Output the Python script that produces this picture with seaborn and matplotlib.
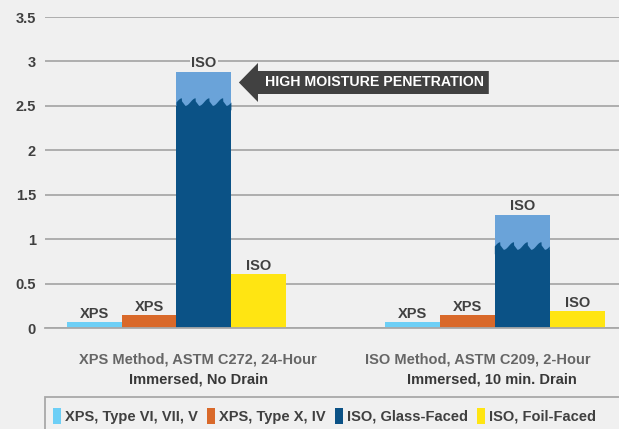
import numpy as np
import pandas as pd
import matplotlib.pyplot as plt
import seaborn as sns
from matplotlib.patches import Rectangle, Polygon, FancyArrow

tests = ["XPS Method, ASTM C272, 24-Hour\nImmersed, No Drain",
         "ISO Method, ASTM C209, 2-Hour\nImmersed, 10 min. Drain"]
products = ["XPS, Type VI, VII, V", "XPS, Type X, IV", "ISO, Glass-Faced", "ISO, Foil-Faced"]
bar_labels = ["XPS", "XPS", "ISO", "ISO"]
xps_6_7_5 = [0.07, 0.07]
xps_10_4 = [0.15, 0.15]
iso_glass = [2.88, 1.27]
iso_foil = [0.61, 0.19]
water_level = [2.50, 0.88]   # wavy boundary inside the glass-faced bars

colors = ["#6dcff6", "#d9692a", "#0b5286", "#ffe512"]
light_top = "#6aa3d9"
bg = "#f0f0f0"
txt = "#404040"
grid_c = "#a8a8a8"
fs = 10.5

rows = []
for i, t in enumerate(tests):
    for p, vals in zip(products, [xps_6_7_5, xps_10_4, iso_glass, iso_foil]):
        rows.append({"test": t, "product": p, "value": vals[i]})
df = pd.DataFrame(rows)

sns.set_theme(style="white")
plt.rcParams['font.family'] = ['Liberation Sans', 'DejaVu Sans']

fig = plt.figure(figsize=(6.19, 4.29), dpi=100, facecolor=bg)
ax = fig.add_axes([45 / 619, 1 - 328 / 429, 1 - 45 / 619, (328 - 17) / 429])
ax.set_facecolor(bg)

sns.barplot(data=df, x="test", y="value", hue="product", palette=colors,
            width=0.69, saturation=1, linewidth=0, ax=ax)
handles, labels = ax.get_legend_handles_labels()
ax.get_legend().remove()

ax.set_ylim(0, 3.5)
ax.set_xlim(-0.413, 1.39)
ax.set_yticks(np.arange(0, 3.51, 0.5))
ax.set_yticklabels(["0", "0.5", "1", "1.5", "2", "2.5", "3", "3.5"],
                   fontweight="bold", color=txt, fontsize=fs)
ax.yaxis.grid(True, color=grid_c, linewidth=1.3)
ax.set_axisbelow(True)
ax.tick_params(axis="y", length=0, pad=6.5)
ax.tick_params(axis="x", length=0)
ax.set_xticklabels([])
ax.set_xlabel("")
ax.set_ylabel("")
for s in ["left", "right", "top"]:
    ax.spines[s].set_visible(False)
ax.spines["bottom"].set_color(grid_c)
ax.spines["bottom"].set_linewidth(1.3)

# light top section + waves on the glass-faced bars
for bar, lvl in zip(ax.containers[2], water_level):
    x0, w, h = bar.get_x(), bar.get_width(), bar.get_height()
    ax.add_patch(Rectangle((x0, lvl), w, h - lvl, color=light_top, lw=0, zorder=3))
    xs = np.linspace(x0, x0 + w, 400)
    ph = ((xs - x0) / w * 4 + 0.35) % 1
    ys = lvl + 0.085 * np.where(ph < 0.75, np.sin(ph / 0.75 * np.pi / 2) ** 2, (1 - ph) / 0.25 * 0.6)
    pts = np.column_stack([np.r_[x0, xs, x0 + w], np.r_[lvl - 0.05, ys, lvl - 0.05]])
    ax.add_patch(Polygon(pts, closed=True, color=colors[2], lw=0, zorder=3))

for k, (cont, lab) in enumerate(zip(ax.containers, bar_labels)):
    extra = dict(bbox=dict(fc=bg, ec="none", pad=0.8)) if k == 2 else {}
    ax.bar_label(cont, labels=[lab] * len(cont), padding=1.5 if k == 2 else 0.5,
                 fontsize=fs, fontweight="bold", color=txt, zorder=5, **extra)

# arrow callout
ax.add_patch(FancyArrow(0.981, 2.763, -0.785, 0, width=0.259, head_width=0.439,
                        head_length=0.06, length_includes_head=True,
                        fc="#414141", ec="none", zorder=6))
ax.text(0.278, 2.763, "HIGH MOISTURE PENETRATION", color="white", fontsize=10.2,
        fontweight="bold", ha="left", va="center", zorder=7)

# two-line category labels
line1_x = [0.068, 0.948]
line2_x = [0.068, 0.99]
for i, t in enumerate(tests):
    l1, l2 = t.split("\n")
    ax.text(line1_x[i], -0.349, l1, ha="center", va="center", fontsize=fs,
            fontweight="bold", color="#666666")
    ax.text(line2_x[i], -0.585, l2, ha="center", va="center", fontsize=fs,
            fontweight="bold", color="#383838")

# legend box running off the bottom/right edge
fig.patches.append(Rectangle((45 / 619, -0.2), 1.0, 0.2 + 1 - 397 / 429,
                             transform=fig.transFigure, fc=bg, ec=grid_c, lw=1.3))
leg = fig.legend(handles, labels, loc="center left", ncol=4, frameon=False,
                 bbox_to_anchor=(53 / 619, 1 - 416 / 429), borderaxespad=0, borderpad=0,
                 handlelength=0.55, handleheight=1.3, handletextpad=0.3,
                 columnspacing=0.6, prop={"weight": "bold", "size": fs})
for t in leg.get_texts():
    t.set_color(txt)

fig.savefig("out.png", dpi=100, facecolor=bg)
